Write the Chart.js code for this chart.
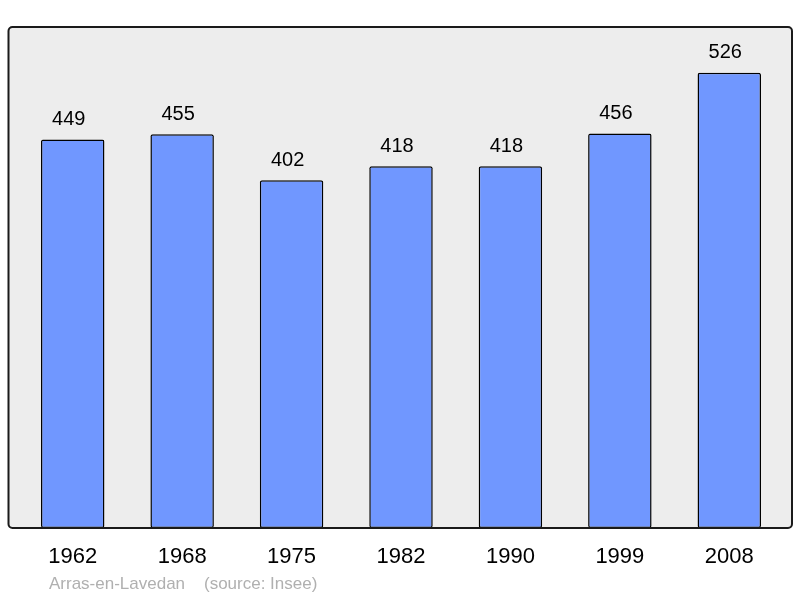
<!DOCTYPE html>
<html>
<head>
<meta charset="utf-8">
<script src="https://cdn.jsdelivr.net/npm/chart.js@4"></script>
<style>
  html, body { margin: 0; padding: 0; background: #fff; }
  #wrap { width: 800px; height: 598px; }
</style>
</head>
<body>
<div id="wrap"><canvas id="popChart" width="800" height="598"></canvas></div>
<script>
const years = ['1962', '1968', '1975', '1982', '1990', '1999', '2008'];
const population = [449, 455, 402, 418, 418, 456, 526];
const footerText = 'Arras-en-Lavedan    (source: Insee)';

// grey framed background behind the bars
const framePlugin = {
    id: 'frame',
    beforeDatasetsDraw(chart) {
        const { ctx, chartArea } = chart;
        const x0 = chartArea.left - 9.5, x1 = chartArea.right + 8;
        const y0 = chartArea.top, y1 = chartArea.bottom;
        ctx.save();
        ctx.beginPath();
        ctx.roundRect(x0, y0, x1 - x0, y1 - y0, 4);
        ctx.fillStyle = '#ededed';
        ctx.fill();
        ctx.restore();
    },
    afterDatasetsDraw(chart) {
        const { ctx, chartArea } = chart;
        const x0 = chartArea.left - 9.5, x1 = chartArea.right + 8;
        const y0 = chartArea.top, y1 = chartArea.bottom;
        ctx.save();
        ctx.beginPath();
        ctx.roundRect(x0, y0, x1 - x0, y1 - y0, 4);
        ctx.lineWidth = 2;
        ctx.strokeStyle = '#1a1a1a';
        ctx.stroke();

        // values above bars (sit a little left of the bar centre)
        ctx.font = '20px "Liberation Sans", Arial, sans-serif';
        ctx.fillStyle = '#000';
        ctx.textAlign = 'center';
        ctx.textBaseline = 'middle';
        chart.getDatasetMeta(0).data.forEach((bar, i) => {
            ctx.fillText(population[i], bar.x - 4, bar.y - 20);
        });

        // footer
        ctx.font = '17px "Liberation Sans", Arial, sans-serif';
        ctx.fillStyle = '#b0b0b0';
        ctx.textAlign = 'left';
        ctx.fillText(footerText, 49, 584);
        ctx.restore();
    }
};

const ctx = document.getElementById('popChart').getContext('2d');
new Chart(ctx, {
    type: 'bar',
    data: {
        labels: years,
        datasets: [{
            data: population,
            backgroundColor: '#7097ff',
            borderColor: '#000',
            borderWidth: 1.5,
            borderRadius: 2,
            borderSkipped: false,
            barPercentage: 0.58,
            categoryPercentage: 1
        }]
    },
    options: {
        responsive: false,
        animation: false,
        layout: { padding: { left: 18, right: 16, top: 27, bottom: 0 } },
        plugins: {
            legend: { display: false },
            tooltip: { enabled: false }
        },
        scales: {
            x: {
                grid: { display: false },
                border: { display: false },
                ticks: {
                    color: '#000',
                    font: { family: '"Liberation Sans", Arial, sans-serif', size: 22 },
                    padding: 8
                },
                afterFit(axis) { axis.height = 70; }
            },
            y: {
                display: false,
                min: 0,
                max: 579
            }
        }
    },
    plugins: [framePlugin]
});
</script>
</body>
</html>
